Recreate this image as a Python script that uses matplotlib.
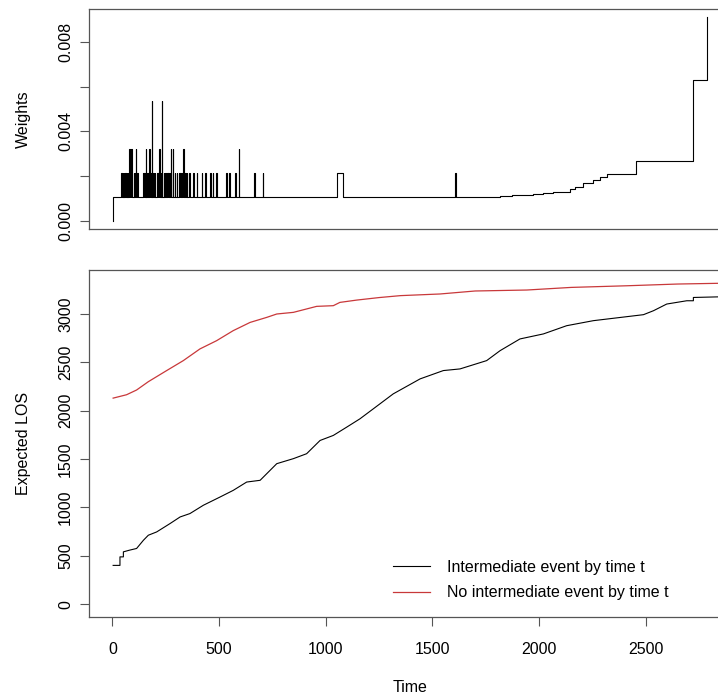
import matplotlib
matplotlib.use("Agg")
import matplotlib.pyplot as plt
import numpy as np

plt.rcParams['font.family'] = ['Liberation Sans', 'DejaVu Sans']
plt.rcParams['font.size'] = 11.5

# weights: base level, short pulses in the early period, rising tail
base_w = 0.00107
pulse_t = [41, 47, 53, 60, 66, 72, 78, 84, 89, 100, 105, 110, 116,
           145, 150, 157, 163, 172, 176, 184, 190, 197,
           208, 214, 219, 226, 231, 240, 247, 255, 262, 270, 274, 282, 292, 301,
           312, 318, 327, 332, 340, 347, 360, 379, 395, 418, 434, 457, 470, 485,
           532, 548, 574, 592, 663, 704, 1053, 1607]
pulse_len = [3, 3, 3, 3, 3, 3, 2, 3, 2, 3, 3, 2, 3,
             3, 3, 2, 3, 2, 3, 2, 3, 3,
             3, 3, 2, 3, 2, 3, 3, 3, 3, 2, 2, 2, 3, 3,
             3, 3, 3, 2, 3, 3, 3, 3, 3, 3, 3, 3, 3, 3,
             3, 3, 3, 2, 3, 3, 28, 1]
pulse_mult = [2, 2, 2, 2, 2, 2, 3, 2, 3, 2, 2, 3, 2,
              2, 2, 3, 2, 3, 2, 5, 2, 2,
              2, 2, 3, 2, 5, 2, 2, 2, 2, 2, 3, 3, 2, 2,
              2, 2, 2, 3, 2, 2, 2, 2, 2, 2, 2, 2, 2, 2,
              2, 2, 2, 3, 2, 2, 2, 2]
tail_t = [1817, 1871, 1973, 2020, 2067, 2145, 2168, 2207, 2254, 2286, 2317, 2454, 2723, 2786]
tail_w = [0.00110, 0.00115, 0.00120, 0.00124, 0.00128, 0.00142, 0.00149,
          0.00169, 0.00182, 0.00197, 0.00209, 0.00269, 0.00630, 0.00910]

# expected length of stay
los_t_event = [3, 35, 35, 51, 51, 79, 113, 145, 168, 207, 270, 317, 363, 426, 504,
               566, 629, 692, 770, 848, 910, 973, 1035, 1098, 1160, 1223, 1316,
               1442, 1551, 1629, 1754, 1817, 1910, 2020, 2129, 2254, 2489, 2536,
               2598, 2692, 2723, 2723, 2854]
los_event = [400, 400, 488, 488, 540, 557, 575, 660, 712, 746, 833, 901, 936, 1022, 1107,
             1176, 1262, 1280, 1452, 1504, 1555, 1692, 1744, 1830, 1916, 2020, 2174,
             2329, 2415, 2432, 2518, 2621, 2742, 2794, 2879, 2931, 2993, 3034,
             3103, 3137, 3137, 3171, 3178]
los_t_none = [3, 66, 113, 168, 254, 332, 410, 488, 566, 645, 723, 770, 848, 957,
              1035, 1066, 1145, 1250, 1350, 1535, 1700, 1942, 2150, 2411, 2650, 2854]
los_none = [2130, 2165, 2214, 2300, 2415, 2518, 2639, 2724, 2828, 2913, 2965, 3000,
            3017, 3079, 3086, 3120, 3144, 3170, 3190, 3207, 3238, 3248, 3275, 3292,
            3310, 3318]

# step series for the weights
wt = [3, 4]
wv = [0, base_w]
for t0, d, m in zip(pulse_t, pulse_len, pulse_mult):
    wt += [t0, t0 + d]
    wv += [m * base_w, base_w]
wt += tail_t
wv += tail_w

spine_col = '#555555'
xlim = (-110, 2968)

fig = plt.figure(figsize=(7.18, 6.95), dpi=100)
ax1 = fig.add_axes([0.124, 0.670, 0.9145, 0.317])
ax2 = fig.add_axes([0.124, 0.1122, 0.9145, 0.4993])

ax1.plot(wt, wv, drawstyle='steps-post', color='black', lw=0.8)
ax1.set_xlim(xlim)
ax1.set_ylim(-0.00038, 0.00946)
ax1.set_xticks([])
ax1.set_yticks([0, 0.002, 0.004, 0.006, 0.008])
ax1.set_yticklabels(['0.000', '', '0.004', '', '0.008'])
ax1.set_ylabel('Weights')

ax2.plot(los_t_event, los_event, color='black', lw=0.8, label='Intermediate event by time t')
ax2.plot(los_t_none, los_none, color='#c8383a', lw=0.9, label='No intermediate event by time t')
ax2.set_xlim(xlim)
ax2.set_ylim(-134, 3455)
ax2.set_xticks(np.arange(0, 3000, 500))
ax2.set_yticks(np.arange(0, 3001, 500))
ax2.set_ylabel('Expected LOS')
ax2.set_xlabel('Time')

for ax in (ax1, ax2):
    for s in ax.spines.values():
        s.set_color(spine_col)
        s.set_linewidth(0.9)
    ax.tick_params(length=6.5, width=0.8, color=spine_col, pad=5)
    ax.tick_params(axis='y', labelrotation=90)
    for lab in ax.get_yticklabels():
        lab.set_va('center')
    ax.yaxis.set_label_coords(-0.088, 0.5)

ax2.tick_params(axis='x', pad=11.5)
ax2.xaxis.set_label_coords(0.489, -0.182)

ax2.legend(loc='center left', bbox_to_anchor=(0.463, 0.106), frameon=False,
           borderpad=0, borderaxespad=0, handlelength=2.3, handletextpad=1.1,
           labelspacing=0.65)

fig.savefig('out.png', dpi=100)
